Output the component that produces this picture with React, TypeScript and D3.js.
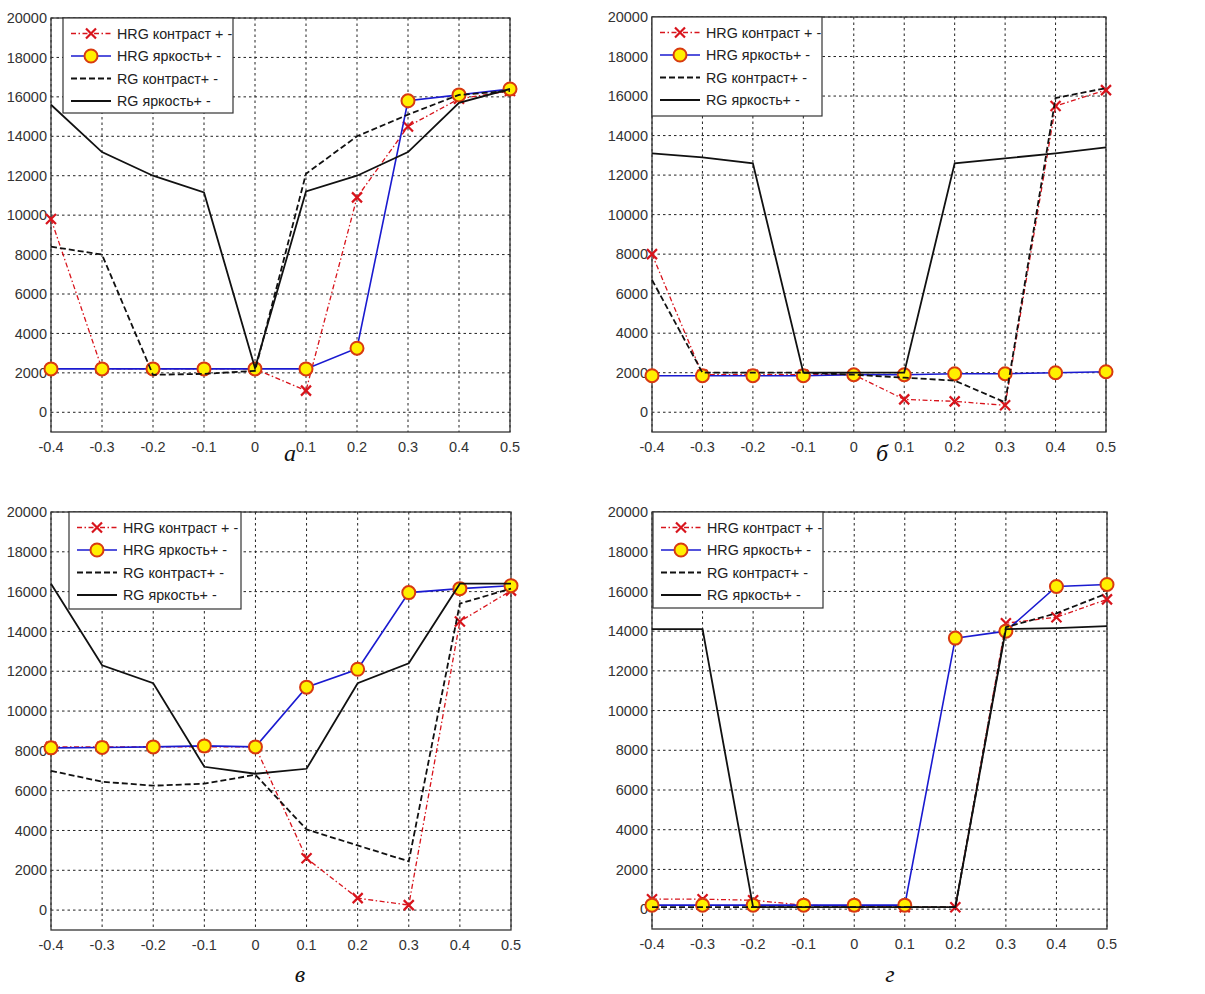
import React from "react";
import * as d3 from "d3";

const xValues = [-0.4, -0.3, -0.2, -0.1, 0, 0.1, 0.2, 0.3, 0.4, 0.5];
const xTickLabels = ["-0.4", "-0.3", "-0.2", "-0.1", "0", "0.1", "0.2", "0.3", "0.4", "0.5"];
const yTicks = [0, 2000, 4000, 6000, 8000, 10000, 12000, 14000, 16000, 18000, 20000];
const legendLabels = ["HRG контраст + -", "HRG яркость+ -", "RG контраст+ -", "RG яркость+ -"];

// Panel а
const aHrgContrast = [9800, 2200, 2200, 2200, 2200, 1100, 10900, 14500, 15900, 16300];
const aHrgBright = [2200, 2200, 2200, 2200, 2200, 2200, 3250, 15800, 16100, 16400];
const aRgContrast = [8400, 8000, 1900, 1950, 2100, 12100, 14000, 15100, 16100, 16300];
const aRgBright = [15600, 13200, 12000, 11150, 2250, 11200, 12000, 13200, 15700, 16400];

// Panel б
const bHrgContrast = [8000, 1900, 1900, 1900, 1900, 650, 550, 350, 15500, 16300];
const bHrgBright = [1850, 1850, 1850, 1850, 1900, 1900, 1950, 1950, 2000, 2050];
const bRgContrast = [6700, 2000, 2000, 2000, 1900, 1750, 1600, 500, 15900, 16400];
const bRgBright = [13100, 12900, 12600, 2000, 2000, 2000, 12600, 12850, 13100, 13400];

// Panel в
const cHrgContrast = [8200, 8200, 8200, 8200, 8200, 2600, 600, 250, 14500, 16050];
const cHrgBright = [8150, 8170, 8200, 8250, 8200, 11200, 12100, 15950, 16150, 16300];
const cRgContrast = [7000, 6450, 6250, 6350, 6800, 4050, 3250, 2450, 15400, 16150];
const cRgBright = [16400, 12300, 11400, 7200, 6850, 7100, 11400, 12400, 16400, 16400];

// Panel г
const dHrgContrast = [500, 500, 450, 200, 150, 100, 100, 14400, 14700, 15600];
const dHrgBright = [200, 200, 200, 200, 200, 200, 13650, 14000, 16250, 16350];
const dRgContrast = [100, 100, 100, 100, 100, 100, 100, 14200, 14900, 15900];
const dRgBright = [14100, 14100, 100, 100, 100, 100, 100, 14100, 14150, 14250];

const RED = "#d8141c";
const BLUE = "#1a1ad0";
const MFILL = "#fff000";
const MEDGE = "#d83a10";
const FONT = "'Liberation Sans', Arial, sans-serif";

type PanelProps = {
  left: number; right: number; top: number; bottom: number;
  hrgC: number[]; hrgB: number[]; rgC: number[]; rgB: number[];
  legendDx: number; legendW: number; legendH: number;
  caption: string; capX: number; capY: number;
};

function XMark({ x, y }: { x: number; y: number }) {
  const s = 5;
  return (
    <path d={`M${x - s},${y - s}L${x + s},${y + s}M${x - s},${y + s}L${x + s},${y - s}`}
      stroke={RED} strokeWidth={2.2} fill="none" />
  );
}

function Circ({ x, y }: { x: number; y: number }) {
  return <circle cx={x} cy={y} r={6.5} fill={MFILL} stroke={MEDGE} strokeWidth={2} />;
}

function Panel(p: PanelProps) {
  const x = d3.scaleLinear().domain([-0.4, 0.5]).range([p.left, p.right]);
  const y = d3.scaleLinear().domain([-1000, 20000]).range([p.bottom, p.top]);
  const line = d3.line<number>().x((_, i) => x(xValues[i])).y((d) => y(d));
  const lx = p.left + p.legendDx;
  const ly = p.top;
  const rowY = (i: number) => ly + 15.5 + i * 22.5;
  return (
    <g>
      <rect x={p.left} y={p.top} width={p.right - p.left} height={p.bottom - p.top} fill="#fff" />
      {xValues.map((v, i) => (
        <line key={"gx" + i} x1={x(v)} x2={x(v)} y1={p.top} y2={p.bottom}
          stroke="#222" strokeWidth={1} strokeDasharray="2.5,3" />
      ))}
      {yTicks.map((v) => (
        <line key={"gy" + v} x1={p.left} x2={p.right} y1={y(v)} y2={y(v)}
          stroke="#222" strokeWidth={1} strokeDasharray="2.5,3" />
      ))}
      <rect x={p.left} y={p.top} width={p.right - p.left} height={p.bottom - p.top}
        fill="none" stroke="#333" strokeWidth={1.3} />
      {yTicks.map((v) => (
        <text key={"ty" + v} x={p.left - 4} y={y(v)} dy="0.35em" textAnchor="end"
          fontFamily={FONT} fontSize={14.5} fill="#333">{v}</text>
      ))}
      {xValues.map((v, i) => (
        <text key={"tx" + i} x={x(v)} y={p.bottom + 20} textAnchor="middle"
          fontFamily={FONT} fontSize={14.5} fill="#333">{xTickLabels[i]}</text>
      ))}
      {/* HRG contrast */}
      <path d={line(p.hrgC) || ""} fill="none" stroke={RED} strokeWidth={1.3} strokeDasharray="5,2.5,1.5,2.5" />
      {p.hrgC.map((v, i) => <XMark key={"xm" + i} x={x(xValues[i])} y={y(v)} />)}
      {/* HRG brightness */}
      <path d={line(p.hrgB) || ""} fill="none" stroke={BLUE} strokeWidth={1.6} />
      {p.hrgB.map((v, i) => <Circ key={"cm" + i} x={x(xValues[i])} y={y(v)} />)}
      {/* RG contrast */}
      <path d={line(p.rgC) || ""} fill="none" stroke="#111" strokeWidth={1.8} strokeDasharray="6,3" />
      {/* RG brightness */}
      <path d={line(p.rgB) || ""} fill="none" stroke="#111" strokeWidth={1.8} />
      {/* Legend */}
      <rect x={lx} y={ly} width={p.legendW} height={p.legendH} fill="#fff" stroke="#333" strokeWidth={1.2} />
      <line x1={lx + 8} x2={lx + 48} y1={rowY(0)} y2={rowY(0)} stroke={RED} strokeWidth={1.3} strokeDasharray="5,2.5,1.5,2.5" />
      <XMark x={lx + 28} y={rowY(0)} />
      <line x1={lx + 8} x2={lx + 48} y1={rowY(1)} y2={rowY(1)} stroke={BLUE} strokeWidth={1.6} />
      <Circ x={lx + 28} y={rowY(1)} />
      <line x1={lx + 8} x2={lx + 48} y1={rowY(2)} y2={rowY(2)} stroke="#111" strokeWidth={1.8} strokeDasharray="6,3" />
      <line x1={lx + 8} x2={lx + 48} y1={rowY(3)} y2={rowY(3)} stroke="#111" strokeWidth={1.8} />
      {legendLabels.map((t, i) => (
        <text key={"lg" + i} x={lx + 54} y={rowY(i)} dy="0.35em" fontFamily={FONT} fontSize={14.3} fill="#222">{t}</text>
      ))}
      <text x={p.capX} y={p.capY} textAnchor="middle" fontFamily="'Liberation Serif', 'Times New Roman', serif"
        fontStyle="italic" fontSize={24} fill="#111">{p.caption}</text>
    </g>
  );
}

export default function App() {
  return (
    <svg width={1205} height={994} style={{ position: "absolute", left: 0, top: 0, background: "#fff" }}>
      <rect x={0} y={0} width={1205} height={994} fill="#fff" />
      <Panel left={51} right={510} top={18} bottom={432}
        hrgC={aHrgContrast} hrgB={aHrgBright} rgC={aRgContrast} rgB={aRgBright}
        legendDx={12} legendW={170} legendH={95} caption="а" capX={290} capY={461} />
      <Panel left={652} right={1106} top={17} bottom={432}
        hrgC={bHrgContrast} hrgB={bHrgBright} rgC={bRgContrast} rgB={bRgBright}
        legendDx={0} legendW={170} legendH={99} caption="б" capX={882} capY={461} />
      <Panel left={51} right={511} top={512} bottom={930}
        hrgC={cHrgContrast} hrgB={cHrgBright} rgC={cRgContrast} rgB={cRgBright}
        legendDx={18} legendW={172} legendH={97} caption="в" capX={300} capY={982} />
      <Panel left={652} right={1107} top={512} bottom={929}
        hrgC={dHrgContrast} hrgB={dHrgBright} rgC={dRgContrast} rgB={dRgBright}
        legendDx={1} legendW={170} legendH={96} caption="г" capX={890} capY={982} />
    </svg>
  );
}
